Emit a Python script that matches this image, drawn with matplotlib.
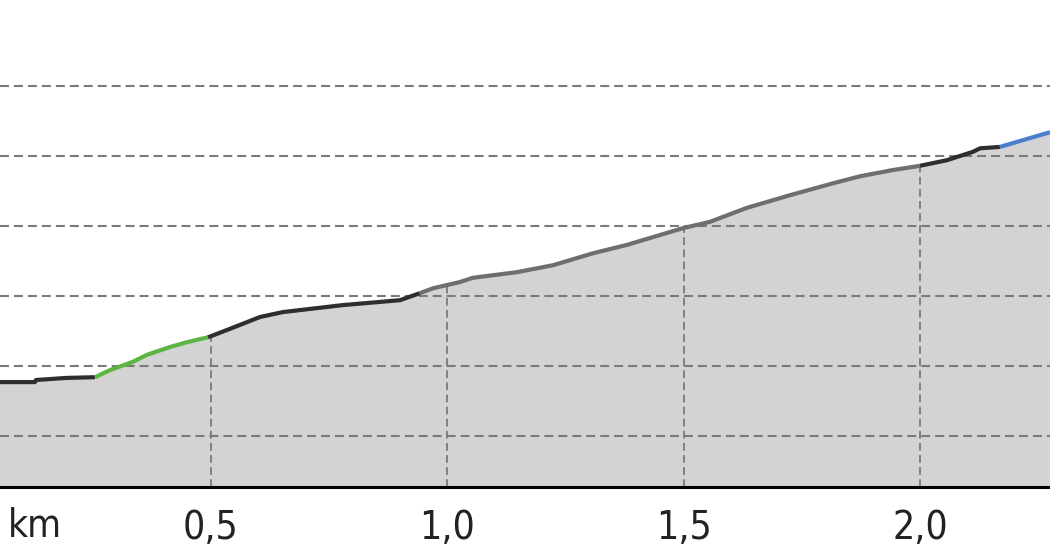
import numpy as np
import matplotlib
matplotlib.use("Agg")
import matplotlib.pyplot as plt
from matplotlib.ticker import FuncFormatter

# distance along route (km) and elevation (m)
dist_km = [0.054, 0.128, 0.130, 0.195, 0.255, 0.286, 0.335, 0.365, 0.413, 0.449,
           0.494, 0.540, 0.604, 0.652, 0.779, 0.900, 0.942, 0.970, 1.027, 1.054,
           1.147, 1.224, 1.308, 1.380, 1.499, 1.556, 1.634, 1.725, 1.816, 1.873,
           1.943, 2.000, 2.057, 2.112, 2.127, 2.169, 2.275]
elev_m = [107.7, 107.7, 108.0, 108.3, 108.4, 109.4, 110.6, 111.6, 112.7, 113.4,
          114.1, 115.3, 117.0, 117.7, 118.7, 119.4, 120.4, 121.1, 122.0, 122.6,
          123.4, 124.4, 126.1, 127.3, 129.7, 130.6, 132.6, 134.4, 136.1, 137.1,
          138.0, 138.6, 139.4, 140.6, 141.1, 141.3, 143.4]
# surface class of the segment starting at each point
surface = ["asphalt"] * 4 + ["path"] * 6 + ["asphalt"] * 6 + ["gravel"] * 15 \
    + ["asphalt"] * 4 + ["track"] * 2

x_ticks = [0.5, 1.0, 1.5, 2.0]
elev_grid = [100, 110, 120, 130, 140, 150]

surface_colors = {"asphalt": "#2e2e2e", "path": "#5cb543",
                  "gravel": "#6e6e6e", "track": "#4a7fcf"}

dist = np.array(dist_km)
elev = np.array(elev_m)

fig = plt.figure(figsize=(10.5, 5.6), dpi=100)
ax = fig.add_axes([0, 73 / 560, 1, 487 / 560])
ax.set_xlim(dist[0], dist[-1])
ax.set_ylim(100 - 51 / 7, 100 + 436 / 7)

y0 = ax.get_ylim()[0]
ax.fill_between(dist, elev, y0, color="#d3d3d3", lw=0, zorder=1)

# horizontal grid over the fill, vertical grid only under the profile
for g in elev_grid:
    ax.axhline(g, color="#7a7a7a", lw=1.5, ls=(0, (4.3, 2.4)), zorder=2)
for t in x_ticks:
    top = np.interp(t, dist, elev)
    ax.vlines(t, y0, top, color="#7a7a7a", lw=1.3, ls=(0, (4.3, 2.4)), zorder=2)

# profile line coloured by surface
start = 0
for i in range(1, len(dist)):
    if i == len(dist) - 1 or surface[i] != surface[start]:
        end = i
        ax.plot(dist[start:end + 1], elev[start:end + 1],
                color=surface_colors[surface[start]], lw=3.0,
                solid_capstyle="butt", zorder=3)
        start = i

for side in ["top", "left", "right"]:
    ax.spines[side].set_visible(False)
ax.spines["bottom"].set_linewidth(2.2)
ax.spines["bottom"].set_color("black")
ax.spines["bottom"].set_zorder(4)

ax.set_yticks([])
ax.set_xticks(x_ticks)
ax.xaxis.set_major_formatter(FuncFormatter(lambda v, p: f"{v:.1f}".replace(".", ",")))
ax.tick_params(axis="x", length=0, pad=16, labelsize=28, labelcolor="#222222")
for lab in ax.get_xticklabels():
    lab.set_fontstretch("condensed")

fig.text(8 / 1050, 1 - 526 / 560, "km", fontsize=28, color="#222222",
         fontstretch="condensed", ha="left", va="center")

fig.savefig("out.png", dpi=100)
